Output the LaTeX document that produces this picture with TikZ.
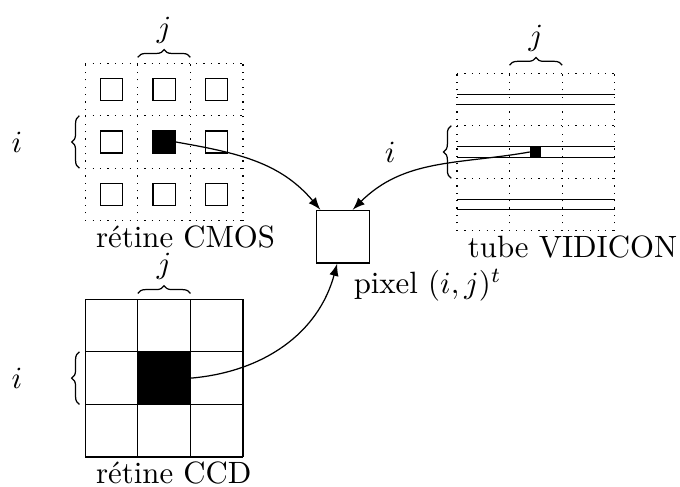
\documentclass[tikz,border=0pt]{standalone}
\usetikzlibrary{decorations.pathreplacing}

\tikzset{
  accolade/.style={decorate, decoration={brace}},
  fleche/.style={-latex},
  etiquette/.style={anchor=north west, inner xsep=3.33pt, inner ysep=1.5pt},
}

\begin{document}
\begin{tikzpicture}[x=0.6cm, y=0.6cm]
\useasboundingbox (-1.62,-8.06) rectangle (11.31,1.2);

% Pixel
\node[draw, minimum size=0.6cm, inner sep=0pt] (pixel) at (4.9,-3.3) {};
\node[etiquette] (pixlab) at (pixel.south) {pixel $(i,j)^t$};

% Retine CMOS
\begin{scope}
	\draw[dotted, step=0.6cm] (0,-3) grid (3,0);
	\foreach \x in {0.5, 1.5, 2.5}
		\foreach \y in {-0.5, -1.5, -2.5}
			\draw (\x-0.21,\y-0.21) rectangle (\x+0.21,\y+0.21);
	\node[fill, minimum size=0.252cm, inner sep=0pt] (cmos) at (1.5,-1.5) {};

	\draw[accolade] (1,0.11) -- (2,0.11) node[midway, above=1pt] (jcmos) {$j$};
	\draw[accolade] (-0.11,-2) -- (-0.11,-1);
	\node (icmos) at (-1.3,-1.5) {$i$};
	\node[etiquette] (labcmos) at (0,-3) {r\'etine CMOS};
\end{scope}

% Tube VIDICON
\begin{scope}[shift={(7.07,-0.19)}]
	\draw[dotted, step=0.6cm] (0,-3) grid (3,0);
	\foreach \y in {-0.5, -1.5, -2.5} {
		\draw (0,\y+0.1) -- (3,\y+0.1);
		\draw (0,\y-0.1) -- (3,\y-0.1);
	}
	\node[fill, minimum size=0.126cm, inner sep=0pt] (vidicon) at (1.5,-1.5) {};

	\draw[accolade] (1,0.15) -- (2,0.15) node[midway, above=1pt] (jvid) {$j$};
	\draw[accolade] (-0.11,-2) -- (-0.11,-1);
	\node (ivid) at (-1.27,-1.5) {$i$};
	\node[etiquette] (labvid) at (0,-3) {tube VIDICON};
\end{scope}

% Retine CCD
\begin{scope}[shift={(0,-4.49)}]
	\node[fill, minimum size=0.6cm, inner sep=0pt] (ccd) at (1.5,-1.5) {};
	\draw[step=0.6cm] (0,-3) grid (3,0);

	\draw[accolade] (1,0.11) -- (2,0.11) node[midway, above=1pt] (jccd) {$j$};
	\draw[accolade] (-0.11,-2) -- (-0.11,-1);
	\node (iccd) at (-1.3,-1.5) {$i$};
	\node[etiquette] (labccd) at (0,-3) {r\'etine CCD};
\end{scope}

% Fleches
\draw[fleche] (cmos.east) to[out=-10, in=130] (pixel.130);
\draw[fleche] (vidicon.west) to[out=190, in=45] (pixel.70);
\draw[fleche] (ccd.east) to[out=5, in=-105] (pixel.258);

\end{tikzpicture}
\end{document}
